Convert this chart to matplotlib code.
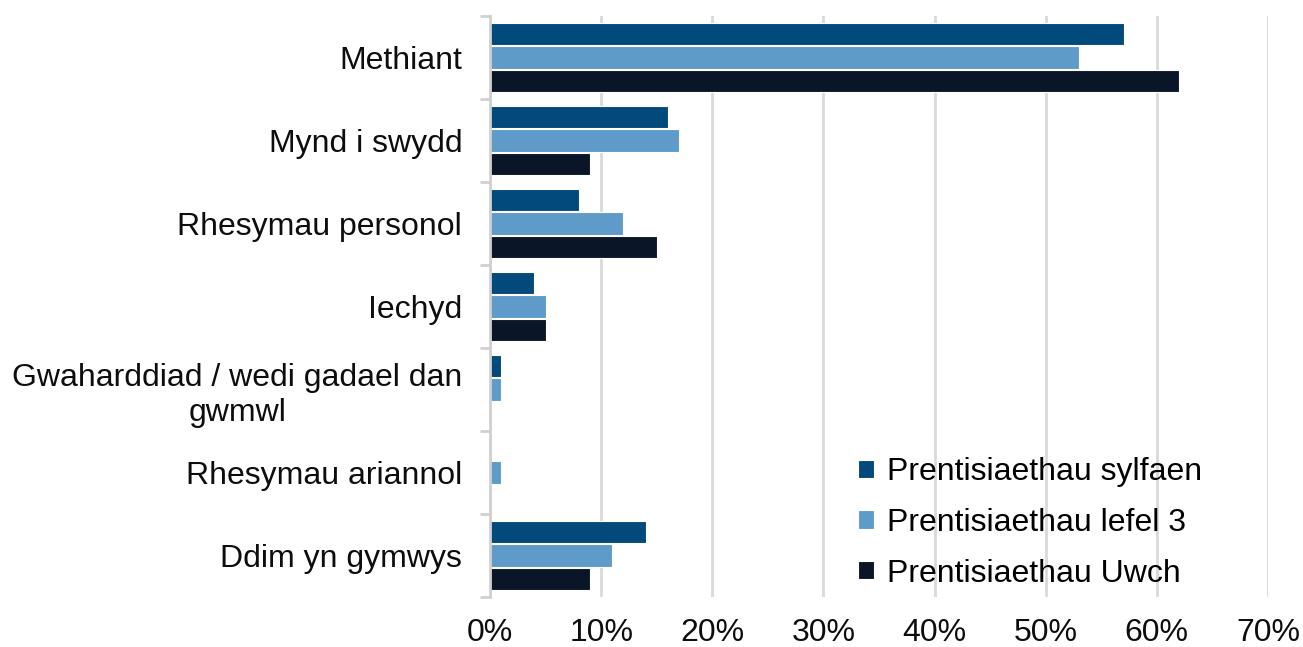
import matplotlib
matplotlib.use('Agg')
import matplotlib.pyplot as plt
import numpy as np

# data, top to bottom as in the chart
categories = ["Methiant", "Mynd i swydd", "Rhesymau personol", "Iechyd",
              "Gwaharddiad / wedi gadael dan\ngwmwl", "Rhesymau ariannol",
              "Ddim yn gymwys"]
series_names = ["Prentisiaethau sylfaen", "Prentisiaethau lefel 3",
                "Prentisiaethau Uwch"]
sylfaen = [57, 16, 8, 4, 1, 0, 14]
lefel3 = [53, 17, 12, 5, 1, 1, 11]
uwch = [62, 9, 15, 5, 0, 0, 9]
colors = ["#034a7c", "#5e9bc8", "#0a1628"]

plt.rcParams['font.family'] = ['Liberation Sans', 'DejaVu Sans']
fs = 23
txt = '#0d0d0d'

fig = plt.figure(figsize=(13.03, 6.47), dpi=100)
ax = fig.add_axes([490/1303, 1-597/647, (1268-490)/1303, (597-16)/647])

y = np.arange(len(categories))
pitch = 0.283
for i, (vals, name) in enumerate(zip([sylfaen, lefel3, uwch], series_names)):
    ax.barh(y + (i-1)*pitch, vals, height=0.27, color=colors[i],
            edgecolor='white', linewidth=0.8, label=name, zorder=3)

ax.set_xlim(0, 70)
ax.set_ylim(len(categories)-0.5, -0.5)
ax.set_xticks(np.arange(0, 71, 10))
ax.set_xticklabels([f"{v}%" for v in range(0, 71, 10)])
ax.set_yticks(y)
ax.set_yticklabels(categories, multialignment='center')
ax.set_yticks(np.arange(-0.5, len(categories), 1), minor=True)

ax.tick_params(axis='y', which='major', length=0, pad=20, labelsize=fs, colors=txt)
ax.tick_params(axis='y', which='minor', length=7, width=2, color='#d0d0d0')
ax.tick_params(axis='x', length=0, pad=15, labelsize=fs, colors=txt)
ax.grid(axis='x', color='#d9d9d9', linewidth=2, zorder=0)
for s in ['top', 'right', 'bottom']:
    ax.spines[s].set_visible(False)
ax.spines['left'].set_color('#d0d0d0')
ax.spines['left'].set_linewidth(2)
ax.spines['left'].set_zorder(4)

ax.legend(loc='upper left', bbox_to_anchor=(858/1303, 1-457/647),
          bbox_transform=fig.transFigure, frameon=False, fontsize=fs,
          handlelength=0.5, handleheight=0.5, handletextpad=0.4,
          labelspacing=0.65, borderpad=0, borderaxespad=0)

fig.savefig("out.png", dpi=100)
